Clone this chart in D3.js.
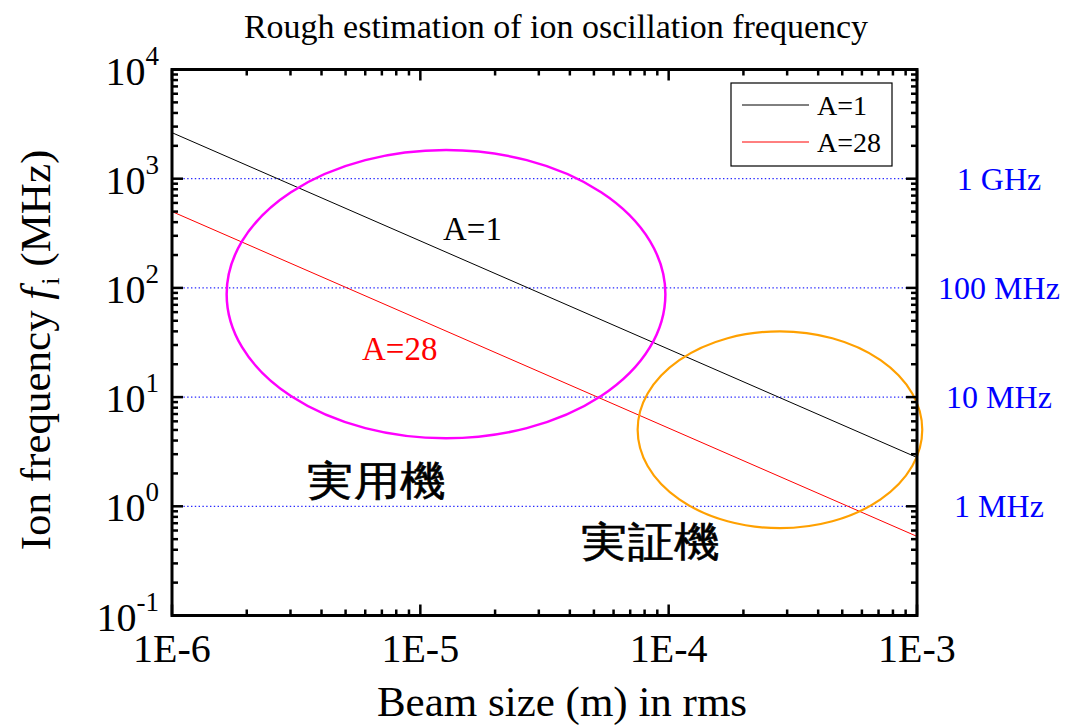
<!DOCTYPE html>
<html>
<head>
<meta charset="utf-8">
<script src="https://cdn.jsdelivr.net/npm/d3@7"></script>
<style>
  html, body { margin: 0; padding: 0; background: #fff; }
  svg { display: block; }
  text { font-family: "Liberation Serif", "Times New Roman", serif; }
</style>
</head>
<body>
<svg id="chart" width="1068" height="726"></svg>
<script>
// Beam size axis (m, rms) and ion frequency axis (MHz)
const xDomain = [1e-6, 1e-3];
const yDomain = [0.1, 1e4];
const xTickLabels = ["1E-6", "1E-5", "1E-4", "1E-3"];
const yTickExponents = ["-1", "0", "1", "2", "3", "4"];

// Ion frequency vs beam size, two ion masses (line endpoints)
const beamSize = [1e-6, 1e-3];
const freqA1 = [2640, 2.8];
const freqA28 = [500, 0.53];
const seriesNames = ["A=1", "A=28"];

// Reference frequency guides
const guideFreqs = [1000, 100, 10, 1];
const guideLabels = ["1 GHz", "100 MHz", "10 MHz", "1 MHz"];

// Operating regions: [size min, size max, freq min, freq max]
const regionPractical = [1.66e-6, 9.7e-5, 4.2, 1830];
const regionDemo = [7.5e-5, 1.05e-3, 0.63, 40];
const regionNames = ["実用機", "実証機"];

const svg = d3.select("#chart");
const L = 172, R = 917, T = 69.5, B = 615.5;

const x = d3.scaleLog().domain(xDomain).range([L, R]);
const y = d3.scaleLog().domain(yDomain).range([B, T]);

const decadesX = d3.range(-6, -2).map(e => Math.pow(10, e));
const decadesY = d3.range(-1, 5).map(e => Math.pow(10, e));
const minorX = [], minorY = [];
decadesX.slice(0, -1).forEach(d => { for (let k = 2; k <= 9; k++) minorX.push(d * k); });
decadesY.slice(0, -1).forEach(d => { for (let k = 2; k <= 9; k++) minorY.push(d * k); });

// guide lines
svg.append("g").selectAll("line").data(guideFreqs).join("line")
  .attr("x1", L).attr("x2", R)
  .attr("y1", d => y(d)).attr("y2", d => y(d))
  .attr("stroke", "#2a2aff").attr("stroke-width", 1.2)
  .attr("stroke-dasharray", "1.4,2.4");

// series lines
const line = d3.line().x(d => x(d[0])).y(d => y(d[1]));
const series = [
  { name: seriesNames[0], vals: freqA1, color: "#000" },
  { name: seriesNames[1], vals: freqA28, color: "#ff0000" }
];
svg.append("g").selectAll("path").data(series).join("path")
  .attr("d", s => line(beamSize.map((b, i) => [b, s.vals[i]])))
  .attr("fill", "none").attr("stroke", s => s.color).attr("stroke-width", 1);

// regions
function ellipse(reg, color, w) {
  const x0 = x(reg[0]), x1 = x(reg[1]), y0 = y(reg[2]), y1 = y(reg[3]);
  svg.append("ellipse")
    .attr("cx", (x0 + x1) / 2).attr("cy", (y0 + y1) / 2)
    .attr("rx", (x1 - x0) / 2).attr("ry", (y0 - y1) / 2)
    .attr("fill", "none").attr("stroke", color).attr("stroke-width", w);
}
ellipse(regionPractical, "#ff00ff", 2.5);
ellipse(regionDemo, "#ffa000", 2.2);

// frame
svg.append("rect").attr("x", L).attr("y", T).attr("width", R - L).attr("height", B - T)
  .attr("fill", "none").attr("stroke", "#000").attr("stroke-width", 3);

// ticks (inward on all four sides)
function ticks(vals, len, side) {
  const g = svg.append("g").attr("stroke", "#000").attr("stroke-width", 2.5);
  g.selectAll("line").data(vals).join("line").each(function (d) {
    const s = d3.select(this);
    if (side === "bottom") s.attr("x1", x(d)).attr("x2", x(d)).attr("y1", B).attr("y2", B - len);
    if (side === "top") s.attr("x1", x(d)).attr("x2", x(d)).attr("y1", T).attr("y2", T + len);
    if (side === "left") s.attr("y1", y(d)).attr("y2", y(d)).attr("x1", L).attr("x2", L + len);
    if (side === "right") s.attr("y1", y(d)).attr("y2", y(d)).attr("x1", R).attr("x2", R - len);
  });
}
["bottom", "top"].forEach(s => { ticks(decadesX, 11, s); ticks(minorX, 6, s); });
["left", "right"].forEach(s => { ticks(decadesY, 11, s); ticks(minorY, 6, s); });

// x tick labels
svg.append("g").selectAll("text").data(decadesX).join("text")
  .attr("x", d => x(d)).attr("y", 662)
  .attr("text-anchor", "middle").attr("font-size", 40)
  .text((d, i) => xTickLabels[i]);

// y tick labels: 10^n
const yl = svg.append("g").selectAll("text").data(decadesY).join("text")
  .attr("x", 159).attr("y", d => y(d) + 15)
  .attr("text-anchor", "end").attr("font-size", 40);
yl.append("tspan").text("10");
yl.append("tspan").attr("font-size", 27).attr("dy", -20).text((d, i) => yTickExponents[i]);

// right guide labels
svg.append("g").selectAll("text").data(guideFreqs).join("text")
  .attr("x", 999).attr("y", d => y(d) + 11)
  .attr("text-anchor", "middle").attr("font-size", 32).attr("fill", "#0000ff")
  .text((d, i) => guideLabels[i]);

// title
svg.append("text").attr("x", 556).attr("y", 38).attr("text-anchor", "middle")
  .attr("font-size", 34).text("Rough estimation of ion oscillation frequency");

// axis titles
svg.append("text").attr("x", 562).attr("y", 716).attr("text-anchor", "middle")
  .attr("font-size", 43).text("Beam size (m) in rms");
const yt = svg.append("text").attr("transform", "translate(50,350) rotate(-90)")
  .attr("text-anchor", "middle").attr("font-size", 43);
yt.append("tspan").text("Ion frequency  ");
yt.append("tspan").attr("font-style", "italic").text("f");
yt.append("tspan").attr("font-size", 26).attr("dy", 9).attr("dx", 3).text("i");
yt.append("tspan").attr("dy", -9).text(" (MHz)");

// inline series labels
svg.append("text").attr("x", 443).attr("y", 240).attr("font-size", 33).attr("fill", "#000").text(seriesNames[0]);
svg.append("text").attr("x", 362).attr("y", 360).attr("font-size", 33).attr("fill", "#ff0000").text(seriesNames[1]);

// region labels (slightly widened glyphs)
const cjk = '"Noto Sans CJK JP", "Noto Sans CJK SC", sans-serif';
function regionLabel(cx, by, str) {
  svg.append("g").attr("transform", `translate(${cx},${by}) scale(1.12,1)`)
    .append("text").attr("text-anchor", "middle")
    .attr("font-family", cjk).attr("font-size", 41).attr("font-weight", 500)
    .attr("stroke", "#000").attr("stroke-width", 0.6)
    .text(str);
}
regionLabel(377, 495, regionNames[0]);
regionLabel(651, 556, regionNames[1]);

// legend
const lg = svg.append("g");
lg.append("rect").attr("x", 731).attr("y", 83).attr("width", 161).attr("height", 83)
  .attr("fill", "#fff").attr("stroke", "#000").attr("stroke-width", 1.2);
series.forEach((s, i) => {
  const ly = 105 + i * 37;
  lg.append("line").attr("x1", 742).attr("x2", 809).attr("y1", ly).attr("y2", ly)
    .attr("stroke", s.color).attr("stroke-width", 1);
  lg.append("text").attr("x", 817).attr("y", ly + 10).attr("font-size", 28).text(s.name);
});
</script>
</body>
</html>
